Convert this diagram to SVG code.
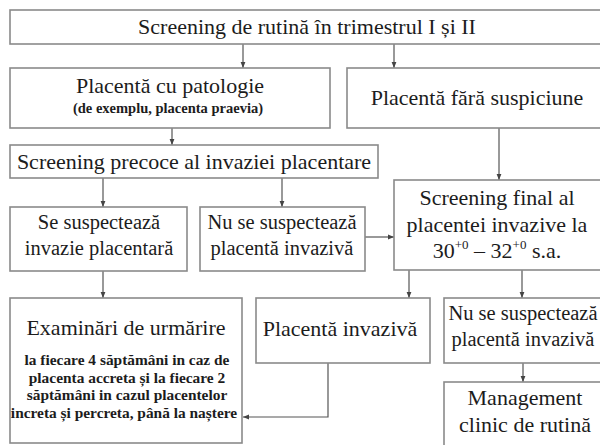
<svg xmlns="http://www.w3.org/2000/svg" width="600" height="445" viewBox="0 0 600 445">
<style>
.box{fill:#fff;stroke:#8a8a8a;stroke-width:1.6}
.t{fill:#1c1c1c;text-anchor:middle;font-size:22px}
.m{font-size:20.5px}
.s{font-size:14.5px;font-weight:bold}
.s2{font-size:15.4px;font-weight:bold}
.c{fill:none;stroke:#555;stroke-width:1.2}
</style>
<defs>
<marker id="ah" viewBox="0 0 6 6" refX="6" refY="3" markerWidth="6" markerHeight="6" markerUnits="userSpaceOnUse" orient="auto">
<path d="M0,0.6 L6,3 L0,5.4 Z" fill="#444"/>
</marker>
</defs>
<rect width="600" height="445" fill="#fff"/>
<g id="connectors">
<line class="c" x1="243" y1="44" x2="243" y2="68" marker-end="url(#ah)"/>
<line class="c" x1="394" y1="44" x2="394" y2="68" marker-end="url(#ah)"/>
<line class="c" x1="172" y1="128" x2="172" y2="145" marker-end="url(#ah)"/>
<line class="c" x1="499" y1="128" x2="499" y2="180" marker-end="url(#ah)"/>
<line class="c" x1="103" y1="178" x2="103" y2="207" marker-end="url(#ah)"/>
<line class="c" x1="282" y1="178" x2="282" y2="207" marker-end="url(#ah)"/>
<line class="c" x1="365" y1="237" x2="394" y2="237" marker-end="url(#ah)"/>
<line class="c" x1="103" y1="271" x2="103" y2="298" marker-end="url(#ah)"/>
<line class="c" x1="409" y1="270" x2="409" y2="298" marker-end="url(#ah)"/>
<line class="c" x1="522" y1="270" x2="522" y2="298" marker-end="url(#ah)"/>
<line class="c" x1="523" y1="363" x2="523" y2="382" marker-end="url(#ah)"/>
<polyline class="c" points="328,363 328,417 243,417" marker-end="url(#ah)"/>
</g>
<g font-family="'Liberation Serif', 'Times New Roman', serif">
<g id="n-top">
<rect class="box" x="10" y="10" width="600" height="34"/>
<text class="t" x="307" y="34">Screening de rutină în trimestrul I și II</text>
</g>
<g id="n-pat">
<rect class="box" x="10" y="68" width="320" height="60"/>
<text class="t" x="170" y="93">Placentă cu patologie</text>
<text class="t s" x="168" y="113">(de exemplu, placenta praevia)</text>
</g>
<g id="n-fara">
<rect class="box" x="347" y="68" width="263" height="60"/>
<text class="t" x="477" y="105">Placentă fără suspiciune</text>
</g>
<g id="n-precoce">
<rect class="box" x="10" y="145" width="368" height="33"/>
<text class="t" x="194" y="169">Screening precoce al invaziei placentare</text>
</g>
<g id="n-se">
<rect class="box" x="10" y="207" width="177" height="64"/>
<text class="t m" x="99" y="229">Se suspectează</text>
<text class="t m" x="99" y="255">invazie placentară</text>
</g>
<g id="n-nu1">
<rect class="box" x="200" y="207" width="165" height="64"/>
<text class="t m" x="282" y="229">Nu se suspectează</text>
<text class="t m" x="282" y="255">placentă invazivă</text>
</g>
<g id="n-final">
<rect class="box" x="394" y="180" width="216" height="90"/>
<text class="t" x="497" y="205">Screening final al</text>
<text class="t" x="497" y="232">placentei invazive la</text>
<text class="t" x="497" y="258">30<tspan font-size="13" dy="-9">+0</tspan><tspan dy="9"> – 32</tspan><tspan font-size="13" dy="-9">+0</tspan><tspan dy="9"> s.a.</tspan></text>
</g>
<g id="n-exam">
<rect class="box" x="10" y="298" width="232" height="145"/>
<text class="t" x="126" y="335">Examinări de urmărire</text>
<text class="t s2" x="127" y="365">la fiecare 4 săptămâni in caz de</text>
<text class="t s2" x="127" y="383">placenta accreta și la fiecare 2</text>
<text class="t s2" x="127" y="400">săptămâni in cazul placentelor</text>
<text class="t s2" x="124" y="418">increta și percreta, până la naștere</text>
</g>
<g id="n-inv">
<rect class="box" x="256" y="298" width="174" height="65"/>
<text class="t" x="340" y="336">Placentă invazivă</text>
</g>
<g id="n-nu2">
<rect class="box" x="444" y="298" width="166" height="65"/>
<text class="t m" x="523" y="320">Nu se suspectează</text>
<text class="t m" x="523" y="346">placentă invazivă</text>
</g>
<g id="n-mgmt">
<rect class="box" x="444" y="382" width="166" height="80"/>
<text class="t" x="525" y="405">Management</text>
<text class="t" x="525" y="432">clinic de rutină</text>
</g>
</g>
</svg>
